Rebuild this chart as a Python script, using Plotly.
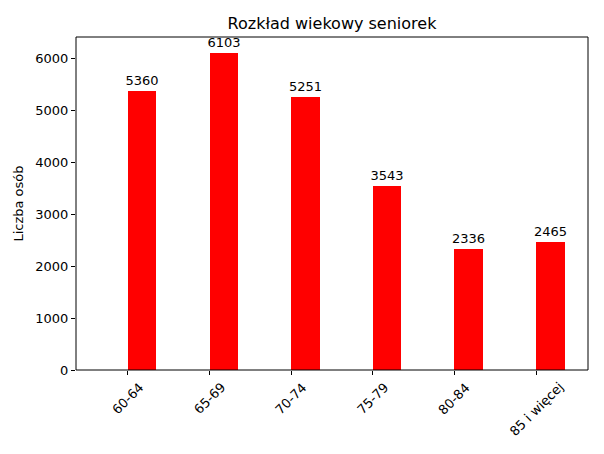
import plotly.graph_objects as go

categories = ["60-64", "65-69", "70-74", "75-79", "80-84", "85 i więcej"]
values = [5360, 6103, 5251, 3543, 2336, 2465]
positions = list(range(len(categories)))

fig = go.Figure()
fig.add_trace(go.Bar(
    x=positions, y=values, width=0.35, offset=0,
    marker=dict(color="#ff0000", line=dict(width=0)),
    text=[str(v) for v in values], textposition="outside",
    constraintext="none",
    textfont=dict(family="DejaVu Sans", size=13, color="black"),
    cliponaxis=False,
))

W, H = 596, 446
annotations = [
    dict(x=p, xref="x", y=0, yref="paper", yshift=-7, text=c, showarrow=False,
         textangle=-45, xanchor="center", yanchor="top",
         font=dict(family="DejaVu Sans", size=13, color="black"))
    for p, c in zip(positions, categories)
]
fig.update_layout(
    width=W, height=H,
    margin=dict(l=68, r=16, t=29, b=84, autoexpand=False),
    paper_bgcolor="white", plot_bgcolor="white",
    font=dict(family="DejaVu Sans", size=13, color="black"),
    title=dict(text="Rozkład wiekowy seniorek", x=0.5, xref="paper", xanchor="center",
               y=1 - 15/H, yanchor="middle",
               font=dict(family="DejaVu Sans", size=16, color="black")),
    showlegend=False,
    bargap=0,
    annotations=annotations,
    shapes=[dict(type="rect", xref="paper", yref="paper", x0=0, y0=0, x1=1, y1=1,
                 line=dict(color="black", width=1), fillcolor="rgba(0,0,0,0)", layer="above")],
)
fig.update_xaxes(
    range=[-0.635, 5.635], tickvals=positions, showticklabels=False,
    showgrid=False, zeroline=False, automargin=False,
    showline=False,
    ticks="outside", ticklen=4, tickcolor="black",
)
fig.update_yaxes(
    range=[0, 6408], tickvals=[0, 1000, 2000, 3000, 4000, 5000, 6000],
    showgrid=False, zeroline=False, automargin=False,
    showline=False,
    ticks="outside", ticklen=4, tickcolor="black",
    tickfont=dict(family="DejaVu Sans", size=13, color="black"),
    title=dict(text="Liczba osób", font=dict(family="DejaVu Sans", size=13, color="black"), standoff=8),
)
fig.write_html("out.html")
